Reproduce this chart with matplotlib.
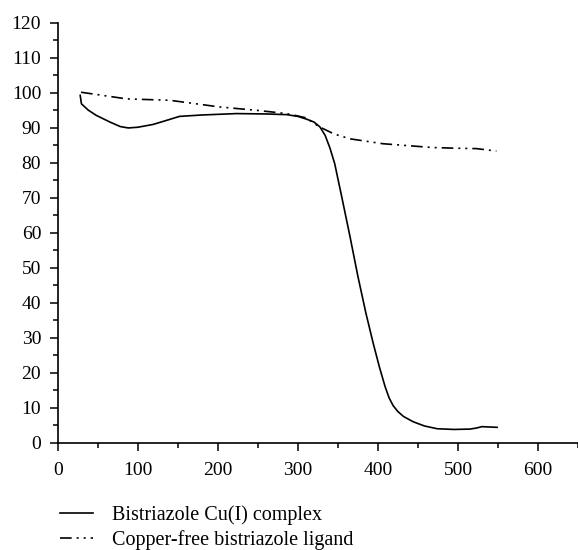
import numpy as np
import matplotlib.pyplot as plt
from matplotlib.ticker import MultipleLocator

plt.rcParams['font.family'] = ['Liberation Serif', 'DejaVu Serif']

# Bistriazole Cu(I) complex
cu_temp = [28, 29.5, 38, 48, 65, 78, 88, 100, 119, 135, 152, 180, 223, 260, 286, 300, 311, 320,
           327.5, 334, 340, 346, 355, 365, 375, 385, 394, 402, 409, 414, 419, 425, 432, 444, 458,
           474, 495, 515, 523, 530, 549]
cu_mass = [99.2, 96.8, 95.0, 93.5, 91.6, 90.3, 89.9, 90.1, 90.9, 92.0, 93.2, 93.6, 94.0, 93.9,
           93.7, 93.2, 92.4, 91.6, 90.2, 87.8, 84.2, 79.7, 70.0, 59.0, 47.5, 37.0, 28.5, 21.5,
           16.0, 12.8, 10.6, 8.9, 7.5, 6.0, 4.8, 4.0, 3.8, 3.9, 4.2, 4.6, 4.4]

# Copper-free bistriazole ligand
lig_temp = [29, 50, 86, 140, 202, 250, 286, 310, 327, 345, 365, 406, 440, 469, 500, 523, 548]
lig_mass = [100.1, 99.4, 98.2, 97.8, 95.9, 94.9, 94.0, 92.8, 90.2, 88.2, 86.8, 85.4, 84.8, 84.3,
            84.1, 84.0, 83.3]

fig = plt.figure(figsize=(5.78, 5.5), dpi=100)
ax = fig.add_axes([0.1, 0.195, 0.9, 0.764])

ax.plot(cu_temp, cu_mass, color='black', lw=1.2, label='Bistriazole Cu(I) complex')
ax.plot(lig_temp, lig_mass, color='black', lw=1.2, linestyle=(0, (7, 3, 1.2, 3, 1.2, 3)),
        label='Copper-free bistriazole ligand')

ax.set_xlim(0, 650)
ax.set_ylim(0, 120)
ax.xaxis.set_major_locator(MultipleLocator(100))
ax.xaxis.set_minor_locator(MultipleLocator(50))
ax.yaxis.set_major_locator(MultipleLocator(10))
ax.yaxis.set_minor_locator(MultipleLocator(5))
ax.spines['top'].set_visible(False)
ax.spines['right'].set_visible(False)
ax.spines['left'].set_linewidth(1.2)
ax.spines['bottom'].set_linewidth(1.2)
ax.tick_params(which='major', direction='out', length=6, width=1.1, labelsize=14, pad=6)
ax.tick_params(axis='x', which='major', pad=8)
ax.tick_params(which='minor', direction='out', length=3.5, width=1.1)
ax.set_xticks([0, 100, 200, 300, 400, 500, 600])

fig.legend(loc='upper left', bbox_to_anchor=(0.086, 0.1), frameon=False, fontsize=14.5,
           handlelength=1.65, handletextpad=0.95, labelspacing=0.25, borderpad=0)

fig.savefig('out.png', dpi=100)
